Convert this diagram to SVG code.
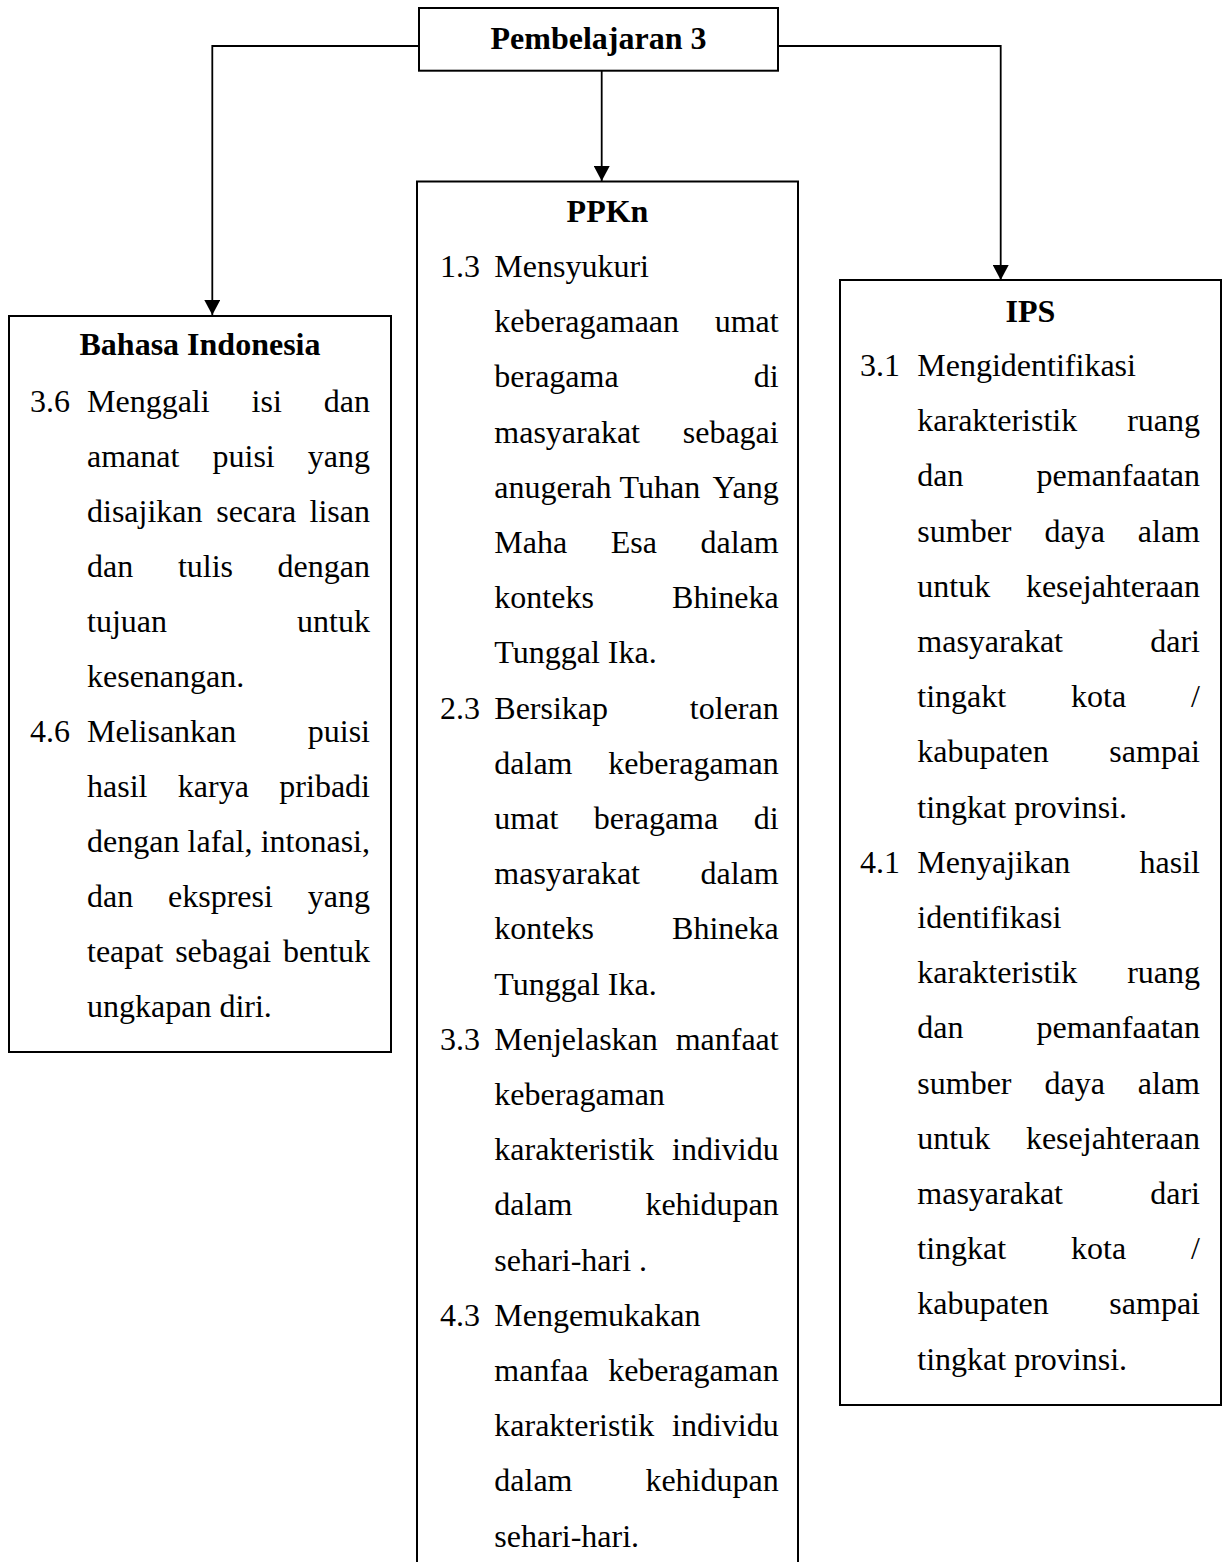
<svg xmlns="http://www.w3.org/2000/svg" width="1230" height="1562" viewBox="0 0 1230 1562">
<style>
  text { font-family: "Liberation Serif", "Times New Roman", serif; font-size: 32px; fill: #000; }
  .t { font-weight: bold; text-anchor: middle; }
  .r { text-anchor: end; }
  .box { fill: #fff; stroke: #000; stroke-width: 2; }
  .conn { fill: none; stroke: #000; stroke-width: 1.8; }
</style>
<defs>
  <marker id="arr" markerUnits="userSpaceOnUse" markerWidth="16" markerHeight="16" refX="15" refY="8" orient="auto">
    <path d="M0,0 L15,8 L0,16 Z" fill="#000"/>
  </marker>
</defs>
<rect width="1230" height="1562" fill="#fff"/>

<g id="connectors">
  <path class="conn" d="M419,46 H212.3 V315" marker-end="url(#arr)"/>
  <path class="conn" d="M601.7,70.7 V181" marker-end="url(#arr)"/>
  <path class="conn" d="M778,46 H1000.7 V280" marker-end="url(#arr)"/>
</g>

<g id="pembelajaran-3">
  <rect class="box" x="419" y="8" width="359" height="62.7"/>
  <text class="t" x="598.5" y="49">Pembelajaran 3</text>
</g>

<g id="bahasa-indonesia">
  <rect class="box" x="9" y="316" width="382" height="736"/>
  <text class="t" x="200" y="355">Bahasa Indonesia</text>
  <text x="30" y="411.7">3.6</text>
  <text x="87" y="411.7">Menggali</text><text x="251.6" y="411.7">isi</text><text class="r" x="370" y="411.7">dan</text>
  <text x="87" y="466.75">amanat</text><text x="212.5" y="466.75">puisi</text><text class="r" x="370" y="466.75">yang</text>
  <text x="87" y="521.8">disajikan</text><text x="216.2" y="521.8">secara</text><text class="r" x="370" y="521.8">lisan</text>
  <text x="87" y="576.85">dan</text><text x="177.9" y="576.85">tulis</text><text class="r" x="370" y="576.85">dengan</text>
  <text x="87" y="631.9">tujuan</text><text class="r" x="370" y="631.9">untuk</text>
  <text x="87" y="686.95">kesenangan.</text>
  <text x="30" y="742">4.6</text>
  <text x="87" y="742">Melisankan</text><text class="r" x="370" y="742">puisi</text>
  <text x="87" y="797.05">hasil</text><text x="177.8" y="797.05">karya</text><text class="r" x="370" y="797.05">pribadi</text>
  <text x="87" y="852.1">dengan</text><text x="187.6" y="852.1">lafal,</text><text class="r" x="370" y="852.1">intonasi,</text>
  <text x="87" y="907.15">dan</text><text x="168.05" y="907.15">ekspresi</text><text class="r" x="370" y="907.15">yang</text>
  <text x="87" y="962.2">teapat</text><text x="175.15" y="962.2">sebagai</text><text class="r" x="370" y="962.2">bentuk</text>
  <text x="87" y="1017.25">ungkapan diri.</text>
</g>

<g id="ppkn">
  <rect class="box" x="417" y="181.5" width="381" height="1400"/>
  <text class="t" x="607.5" y="222">PPKn</text>
  <text x="440" y="277">1.3</text>
  <text x="494.3" y="277">Mensyukuri</text>
  <text x="494.3" y="332.2">keberagamaan</text><text class="r" x="778.7" y="332.2">umat</text>
  <text x="494.3" y="387.4">beragama</text><text class="r" x="778.7" y="387.4">di</text>
  <text x="494.3" y="442.6">masyarakat</text><text class="r" x="778.7" y="442.6">sebagai</text>
  <text x="494.3" y="497.8">anugerah</text><text x="619.6" y="497.8">Tuhan</text><text class="r" x="778.7" y="497.8">Yang</text>
  <text x="494.3" y="553">Maha</text><text x="610.75" y="553">Esa</text><text class="r" x="778.7" y="553">dalam</text>
  <text x="494.3" y="608.2">konteks</text><text class="r" x="778.7" y="608.2">Bhineka</text>
  <text x="494.3" y="663.4">Tunggal Ika.</text>
  <text x="440" y="718.6">2.3</text>
  <text x="494.3" y="718.6">Bersikap</text><text class="r" x="778.7" y="718.6">toleran</text>
  <text x="494.3" y="773.8">dalam</text><text class="r" x="778.7" y="773.8">keberagaman</text>
  <text x="494.3" y="829">umat</text><text x="593.85" y="829">beragama</text><text class="r" x="778.7" y="829">di</text>
  <text x="494.3" y="884.2">masyarakat</text><text class="r" x="778.7" y="884.2">dalam</text>
  <text x="494.3" y="939.4">konteks</text><text class="r" x="778.7" y="939.4">Bhineka</text>
  <text x="494.3" y="994.6">Tunggal Ika.</text>
  <text x="440" y="1049.8">3.3</text>
  <text x="494.3" y="1049.8">Menjelaskan</text><text class="r" x="778.7" y="1049.8">manfaat</text>
  <text x="494.3" y="1105">keberagaman</text>
  <text x="494.3" y="1160.2">karakteristik</text><text class="r" x="778.7" y="1160.2">individu</text>
  <text x="494.3" y="1215.4">dalam</text><text class="r" x="778.7" y="1215.4">kehidupan</text>
  <text x="494.3" y="1270.6">sehari-hari .</text>
  <text x="440" y="1325.8">4.3</text>
  <text x="494.3" y="1325.8">Mengemukakan</text>
  <text x="494.3" y="1381">manfaa</text><text class="r" x="778.7" y="1381">keberagaman</text>
  <text x="494.3" y="1436.2">karakteristik</text><text class="r" x="778.7" y="1436.2">individu</text>
  <text x="494.3" y="1491.4">dalam</text><text class="r" x="778.7" y="1491.4">kehidupan</text>
  <text x="494.3" y="1546.6">sehari-hari.</text>
</g>

<g id="ips">
  <rect class="box" x="840" y="280" width="381" height="1125"/>
  <text class="t" x="1030.5" y="322">IPS</text>
  <text x="860" y="376">3.1</text>
  <text x="917.3" y="376">Mengidentifikasi</text>
  <text x="917.3" y="431.2">karakteristik</text><text class="r" x="1200" y="431.2">ruang</text>
  <text x="917.3" y="486.4">dan</text><text class="r" x="1200" y="486.4">pemanfaatan</text>
  <text x="917.3" y="541.6">sumber</text><text x="1044.45" y="541.6">daya</text><text class="r" x="1200" y="541.6">alam</text>
  <text x="917.3" y="596.8">untuk</text><text class="r" x="1200" y="596.8">kesejahteraan</text>
  <text x="917.3" y="652">masyarakat</text><text class="r" x="1200" y="652">dari</text>
  <text x="917.3" y="707.2">tingakt</text><text x="1071.1" y="707.2">kota</text><text class="r" x="1200" y="707.2">/</text>
  <text x="917.3" y="762.4">kabupaten</text><text class="r" x="1200" y="762.4">sampai</text>
  <text x="917.3" y="817.6">tingkat provinsi.</text>
  <text x="860" y="872.8">4.1</text>
  <text x="917.3" y="872.8">Menyajikan</text><text class="r" x="1200" y="872.8">hasil</text>
  <text x="917.3" y="928">identifikasi</text>
  <text x="917.3" y="983.2">karakteristik</text><text class="r" x="1200" y="983.2">ruang</text>
  <text x="917.3" y="1038.4">dan</text><text class="r" x="1200" y="1038.4">pemanfaatan</text>
  <text x="917.3" y="1093.6">sumber</text><text x="1044.45" y="1093.6">daya</text><text class="r" x="1200" y="1093.6">alam</text>
  <text x="917.3" y="1148.8">untuk</text><text class="r" x="1200" y="1148.8">kesejahteraan</text>
  <text x="917.3" y="1204">masyarakat</text><text class="r" x="1200" y="1204">dari</text>
  <text x="917.3" y="1259.2">tingkat</text><text x="1071.1" y="1259.2">kota</text><text class="r" x="1200" y="1259.2">/</text>
  <text x="917.3" y="1314.4">kabupaten</text><text class="r" x="1200" y="1314.4">sampai</text>
  <text x="917.3" y="1369.6">tingkat provinsi.</text>
</g>
</svg>
